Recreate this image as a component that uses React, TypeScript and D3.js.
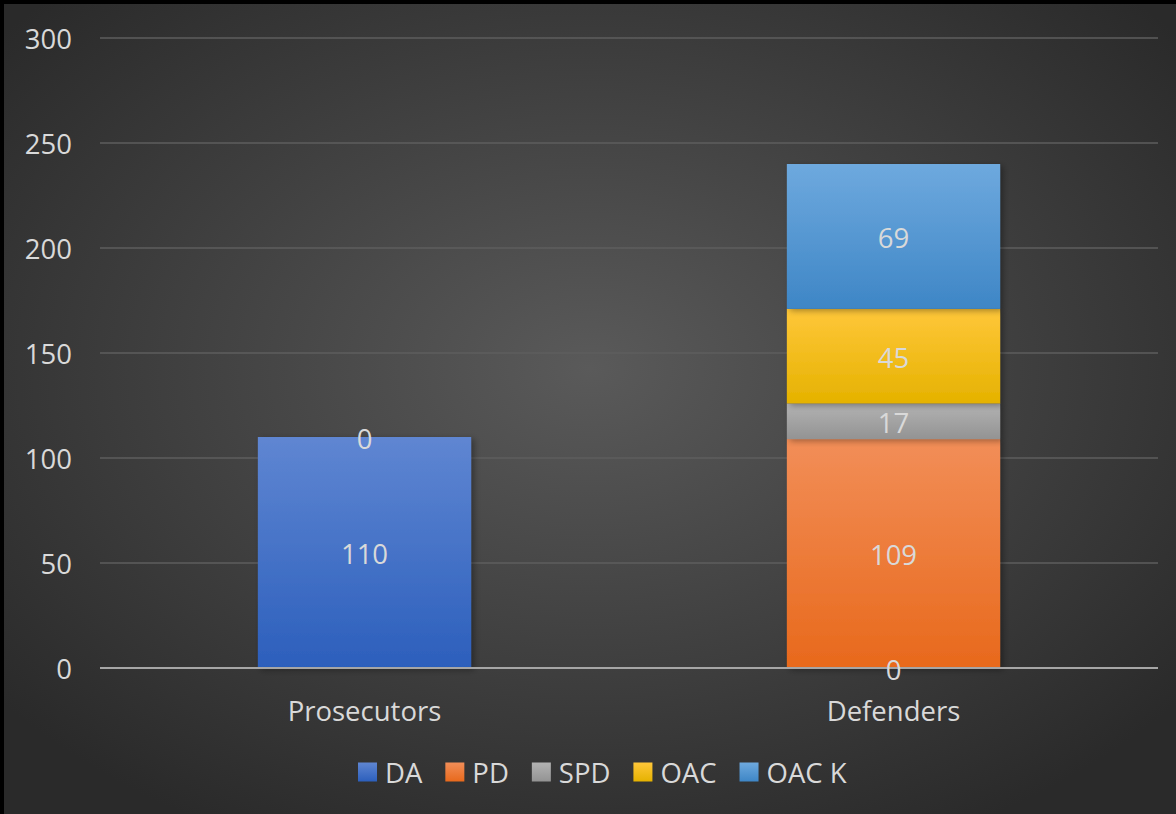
import { useEffect, useRef } from "react";
import * as d3 from "d3";

const categories = ["Prosecutors", "Defenders"];
const seriesNames = ["DA", "PD", "SPD", "OAC", "OAC K"];
const daValues = [110, 0];
const pdValues = [0, 109];
const spdValues = [null, 17];
const oacValues = [null, 45];
const oacKValues = [null, 69];
const yTicks = [0, 50, 100, 150, 200, 250, 300];

const seriesValues = [daValues, pdValues, spdValues, oacValues, oacKValues];
const gradStops = [
  ["#5f86d2", "#2c5fbc"],
  ["#f28e58", "#e8691c"],
  ["#b3b3b3", "#939393"],
  ["#ffc73a", "#e5b200"],
  ["#6ea9de", "#3e86c6"],
];

const FONT = "'Open Sans', sans-serif";
const FS = 27.5;

export default function App() {
  const svgRef = useRef<SVGSVGElement>(null);

  useEffect(() => {
    const W = 1176, H = 814;
    const svg = d3.select(svgRef.current);
    svg.selectAll("*").remove();

    const defs = svg.append("defs");
    const bg = defs.append("radialGradient").attr("id", "bg")
      .attr("cx", "50%").attr("cy", "45%").attr("r", "65%");
    bg.append("stop").attr("offset", "0%").attr("stop-color", "#5a5a5a");
    bg.append("stop").attr("offset", "100%").attr("stop-color", "#2a2a2a");

    gradStops.forEach((s, i) => {
      const g = defs.append("linearGradient").attr("id", `g${i}`)
        .attr("x1", 0).attr("y1", 0).attr("x2", 0).attr("y2", 1);
      g.append("stop").attr("offset", "0%").attr("stop-color", s[0]);
      g.append("stop").attr("offset", "100%").attr("stop-color", s[1]);
    });

    const sh = defs.append("filter").attr("id", "shadow")
      .attr("x", "-10%").attr("y", "-10%").attr("width", "130%").attr("height", "130%");
    sh.append("feDropShadow").attr("dx", 3).attr("dy", 2).attr("stdDeviation", 3)
      .attr("flood-color", "#000").attr("flood-opacity", 0.35);

    svg.append("rect").attr("width", W).attr("height", H).attr("fill", "#000");
    svg.append("rect").attr("x", 4).attr("y", 4).attr("width", W - 4).attr("height", H - 4)
      .attr("fill", "url(#bg)");

    const left = 100, right = 1158, top = 38, bottom = 668;
    const x = d3.scaleBand().domain(categories).range([left, right])
      .paddingInner(0.5968).paddingOuter(0.2984);
    const y = d3.scaleLinear().domain([0, 300]).range([bottom, top]);

    // gridlines
    svg.append("g").selectAll("line").data(yTicks.filter(t => t > 0)).join("line")
      .attr("x1", left).attr("x2", right)
      .attr("y1", d => y(d)).attr("y2", d => y(d))
      .attr("stroke", "#5e5e5e").attr("stroke-width", 1.5);

    // y tick labels
    svg.append("g").selectAll("text").data(yTicks).join("text")
      .attr("x", 72).attr("y", d => y(d))
      .attr("text-anchor", "end").attr("dominant-baseline", "central")
      .attr("fill", "#d9d9d9").attr("font-size", FS).attr("font-family", FONT)
      .text(d => d);

    // stacked bars
    const labels: { x: number; y: number; v: number }[] = [];
    categories.forEach((c, ci) => {
      let acc = 0;
      seriesValues.forEach((vals, si) => {
        const v = vals[ci];
        if (v === null || v === undefined) return;
        const y0 = y(acc), y1 = y(acc + v);
        if (v > 0) {
          svg.append("rect")
            .attr("x", x(c)!).attr("width", x.bandwidth())
            .attr("y", y1).attr("height", y0 - y1)
            .attr("fill", `url(#g${si})`)
            .attr("filter", "url(#shadow)");
        }
        labels.push({ x: x(c)! + x.bandwidth() / 2, y: (y0 + y1) / 2, v });
        acc += v;
      });
    });

    // x axis line
    svg.append("line").attr("x1", left).attr("x2", right)
      .attr("y1", bottom).attr("y2", bottom)
      .attr("stroke", "#a6a6a6").attr("stroke-width", 2);

    svg.append("g").selectAll("text").data(labels).join("text")
      .attr("x", d => d.x).attr("y", d => d.y + 1)
      .attr("text-anchor", "middle").attr("dominant-baseline", "central")
      .attr("fill", "#d9d9d9").attr("font-size", FS).attr("font-family", FONT)
      .text(d => d.v);

    // category labels
    svg.append("g").selectAll("text").data(categories).join("text")
      .attr("x", d => x(d)! + x.bandwidth() / 2).attr("y", 710)
      .attr("text-anchor", "middle").attr("dominant-baseline", "central")
      .attr("fill", "#d9d9d9").attr("font-size", FS).attr("font-family", FONT)
      .text(d => d);

    // legend
    const lg = svg.append("g");
    const sq = 19, gapText = 8, gapItem = 23;
    let cx = 0;
    seriesNames.forEach((n, i) => {
      const it = lg.append("g").attr("transform", `translate(${cx},0)`);
      it.append("rect").attr("x", 0).attr("y", -sq / 2).attr("width", sq).attr("height", sq)
        .attr("fill", `url(#g${i})`);
      const t = it.append("text").attr("x", sq + gapText).attr("y", 0)
        .attr("dominant-baseline", "central")
        .attr("fill", "#d9d9d9").attr("font-size", FS).attr("font-family", FONT)
        .text(n);
      const tw = (t.node() as SVGTextElement).getComputedTextLength();
      cx += sq + gapText + tw + gapItem;
    });
    lg.attr("transform", `translate(358,772)`);
  }, []);

  return (
    <svg ref={svgRef} width={1176} height={814}
      style={{ position: "absolute", left: 0, top: 0, display: "block" }} />
  );
}
